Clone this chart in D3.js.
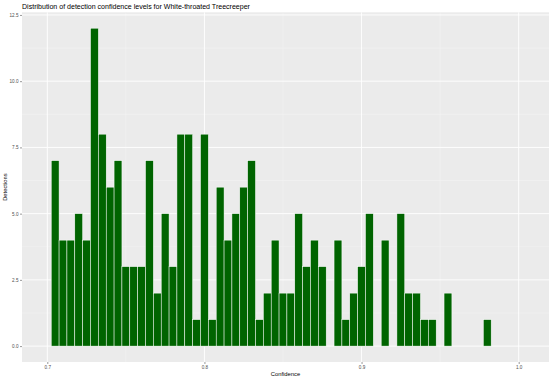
<!DOCTYPE html>
<html>
<head>
<meta charset="utf-8">
<script src="https://cdn.jsdelivr.net/npm/d3@7"></script>
<style>
html,body{margin:0;padding:0;background:#fff;}
svg text{font-family:"Liberation Sans",Arial,Helvetica,sans-serif;}
</style>
</head>
<body>
<svg id="chart" width="553" height="379"></svg>
<script>
const titleText = "Distribution of detection confidence levels for White-throated Treecreeper";
const xLabel = "Confidence";
const yLabel = "Detections";
const binWidth = 0.005;
const binCenters = [0.705,0.710,0.715,0.720,0.725,0.730,0.735,0.740,0.745,0.750,
  0.755,0.760,0.765,0.770,0.775,0.780,0.785,0.790,0.795,0.800,
  0.805,0.810,0.815,0.820,0.825,0.830,0.835,0.840,0.845,0.850,
  0.855,0.860,0.865,0.870,0.875,0.885,0.890,0.895,0.900,0.905,
  0.915,0.925,0.930,0.935,0.940,0.945,0.955,0.980];
const counts = [7,4,4,5,4,12,8,6,7,3,
  3,3,7,2,5,3,8,8,1,8,
  1,6,4,5,6,7,1,2,4,2,
  2,5,3,4,3,4,1,2,3,5,
  4,5,2,2,1,1,2,1];
const xTicks = [0.7,0.8,0.9,1.0];
const xTickLabels = ["0.7","0.8","0.9","1.0"];
const xMinor = [0.75,0.85,0.95];
const yTicks = [0,2.5,5,7.5,10,12.5];
const yTickLabels = ["0.0","2.5","5.0","7.5","10.0","12.5"];
const yMinor = [1.25,3.75,6.25,8.75,11.25];

const data = binCenters.map((c,i)=>({c:c, n:counts[i]}));

const panel = {left:22, right:549, top:12.3, bottom:362};
const svg = d3.select("#chart");

const x = d3.scaleLinear().domain([0.6839,1.0193]).range([panel.left,panel.right]);
const y = d3.scaleLinear().domain([-0.6,12.6]).range([panel.bottom,panel.top]);

svg.append("rect").attr("x",panel.left).attr("y",panel.top)
  .attr("width",panel.right-panel.left).attr("height",panel.bottom-panel.top)
  .attr("fill","#ebebeb");

const grid = svg.append("g");
grid.selectAll(".ymin").data(yMinor).join("line")
  .attr("x1",panel.left).attr("x2",panel.right)
  .attr("y1",d=>y(d)).attr("y2",d=>y(d))
  .attr("stroke","#f5f5f5").attr("stroke-width",0.5);
grid.selectAll(".xmin").data(xMinor).join("line")
  .attr("y1",panel.top).attr("y2",panel.bottom)
  .attr("x1",d=>x(d)).attr("x2",d=>x(d))
  .attr("stroke","#f5f5f5").attr("stroke-width",0.5);
grid.selectAll(".ymaj").data(yTicks).join("line")
  .attr("x1",panel.left).attr("x2",panel.right)
  .attr("y1",d=>y(d)).attr("y2",d=>y(d))
  .attr("stroke","#ffffff").attr("stroke-width",0.9);
grid.selectAll(".xmaj").data(xTicks).join("line")
  .attr("y1",panel.top).attr("y2",panel.bottom)
  .attr("x1",d=>x(d)).attr("x2",d=>x(d))
  .attr("stroke","#ffffff").attr("stroke-width",0.9);

svg.append("g").selectAll("rect").data(data).join("rect")
  .attr("x",d=>x(d.c-binWidth/2))
  .attr("width",d=>x(d.c+binWidth/2)-x(d.c-binWidth/2))
  .attr("y",d=>y(d.n))
  .attr("height",d=>y(0)-y(d.n))
  .attr("fill","#006400")
  .attr("stroke","#ffffff").attr("stroke-width",0.5);

// axes
const xAxis = d3.axisBottom(x).tickValues(xTicks).tickFormat((d,i)=>xTickLabels[i]).tickSize(2).tickPadding(1.5);
const gx = svg.append("g").attr("transform",`translate(0,${panel.bottom})`).call(xAxis);
gx.select(".domain").remove();
gx.selectAll(".tick line").attr("stroke","#333333").attr("stroke-width",0.5);
gx.selectAll(".tick text").attr("fill","#4d4d4d").attr("font-size","4.6px");

const yAxis = d3.axisLeft(y).tickValues(yTicks).tickFormat((d,i)=>yTickLabels[i]).tickSize(2).tickPadding(1.5);
const gy = svg.append("g").attr("transform",`translate(${panel.left},0)`).call(yAxis);
gy.select(".domain").remove();
gy.selectAll(".tick line").attr("stroke","#333333").attr("stroke-width",0.5);
gy.selectAll(".tick text").attr("fill","#4d4d4d").attr("font-size","4.6px");

svg.append("text").attr("x",panel.left).attr("y",8.5)
  .attr("font-size","7.05px").attr("fill","#000").text(titleText);

svg.append("text").attr("x",(panel.left+panel.right)/2).attr("y",375.5)
  .attr("text-anchor","middle").attr("font-size","5.8px").attr("fill","#000").text(xLabel);

svg.append("text").attr("transform",`translate(7,${(panel.top+panel.bottom)/2}) rotate(-90)`)
  .attr("text-anchor","middle").attr("font-size","5.8px").attr("fill","#000").text(yLabel);
</script>
</body>
</html>
